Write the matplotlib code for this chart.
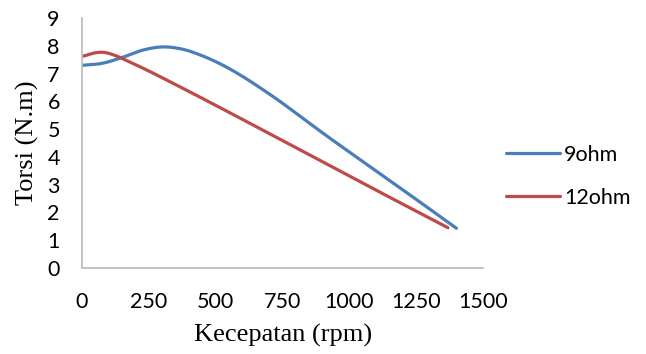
import matplotlib
matplotlib.use('Agg')
import matplotlib.pyplot as plt
import numpy as np

# values
speed_9ohm = [0, 75, 150, 225, 300, 375, 450, 525, 600, 675, 750, 900, 1050, 1200, 1300, 1400]
torque_9ohm = [7.3, 7.37, 7.58, 7.84, 7.96, 7.88, 7.64, 7.31, 6.9, 6.43, 5.93, 4.86, 3.83, 2.81, 2.12, 1.43]

speed_12ohm = [0, 85, 200, 367, 600, 853, 1100, 1368]
torque_12ohm = [7.62, 7.76, 7.32, 6.52, 5.35, 4.06, 2.8, 1.45]

x_ticks = [0, 250, 500, 750, 1000, 1250, 1500]
y_ticks = [0, 1, 2, 3, 4, 5, 6, 7, 8, 9]


def smooth(xs, ys, n=30):
    # excel-like smoothed line (catmull-rom bezier through the points)
    xs = np.asarray(xs, float)
    ys = np.asarray(ys, float)
    px = np.concatenate([[xs[0]], xs, [xs[-1]]])
    py = np.concatenate([[ys[0]], ys, [ys[-1]]])
    out_x, out_y = [], []
    t = np.linspace(0, 1, n)
    for i in range(1, len(px) - 2):
        p0 = np.array([px[i], py[i]])
        p3 = np.array([px[i + 1], py[i + 1]])
        c1 = p0 + (p3 - np.array([px[i - 1], py[i - 1]])) / 6
        c2 = p3 - (np.array([px[i + 2], py[i + 2]]) - p0) / 6
        b = ((1 - t) ** 3)[:, None] * p0 + (3 * (1 - t) ** 2 * t)[:, None] * c1 \
            + (3 * (1 - t) * t ** 2)[:, None] * c2 + (t ** 3)[:, None] * p3
        out_x.extend(b[:, 0])
        out_y.extend(b[:, 1])
    return out_x, out_y


fig = plt.figure(figsize=(6.46, 3.54), dpi=100)
ax = fig.add_axes([0.127, 0.243, 0.621, 0.706])

bx, by = smooth(speed_9ohm, torque_9ohm)
rx, ry = smooth(speed_12ohm, torque_12ohm)
ax.plot(bx, by, color='#4A7EBB', lw=2.3, label='9ohm', solid_capstyle='round')
ax.plot(rx, ry, color='#BE4B48', lw=2.3, label='12ohm', solid_capstyle='round')

ax.set_xlim(0, 1500)
ax.set_ylim(0, 9)
ax.set_xticks(x_ticks)
ax.set_yticks(y_ticks)
ax.tick_params(length=0, labelsize=15.5)
ax.tick_params(axis='x', pad=17)
ax.tick_params(axis='y', pad=16)
for lab in ax.get_xticklabels() + ax.get_yticklabels():
    lab.set_family('Lato')

for s in ['top', 'right']:
    ax.spines[s].set_visible(False)
for s in ['left', 'bottom']:
    ax.spines[s].set_color('#BFBFBF')
    ax.spines[s].set_linewidth(1.3)

ax.set_xlabel('Kecepatan (rpm)', family='Liberation Serif', fontsize=19, labelpad=9)
ax.set_ylabel('Torsi (N.m)', family='Liberation Serif', fontsize=19, labelpad=6)

fig.legend(loc='center left', bbox_to_anchor=(0.783, 0.502), frameon=False,
           prop={'family': 'Lato', 'size': 15.5}, handlelength=2.5,
           handletextpad=0.2, labelspacing=1.05, borderpad=0, borderaxespad=0)

fig.savefig('out.png', dpi=100)
